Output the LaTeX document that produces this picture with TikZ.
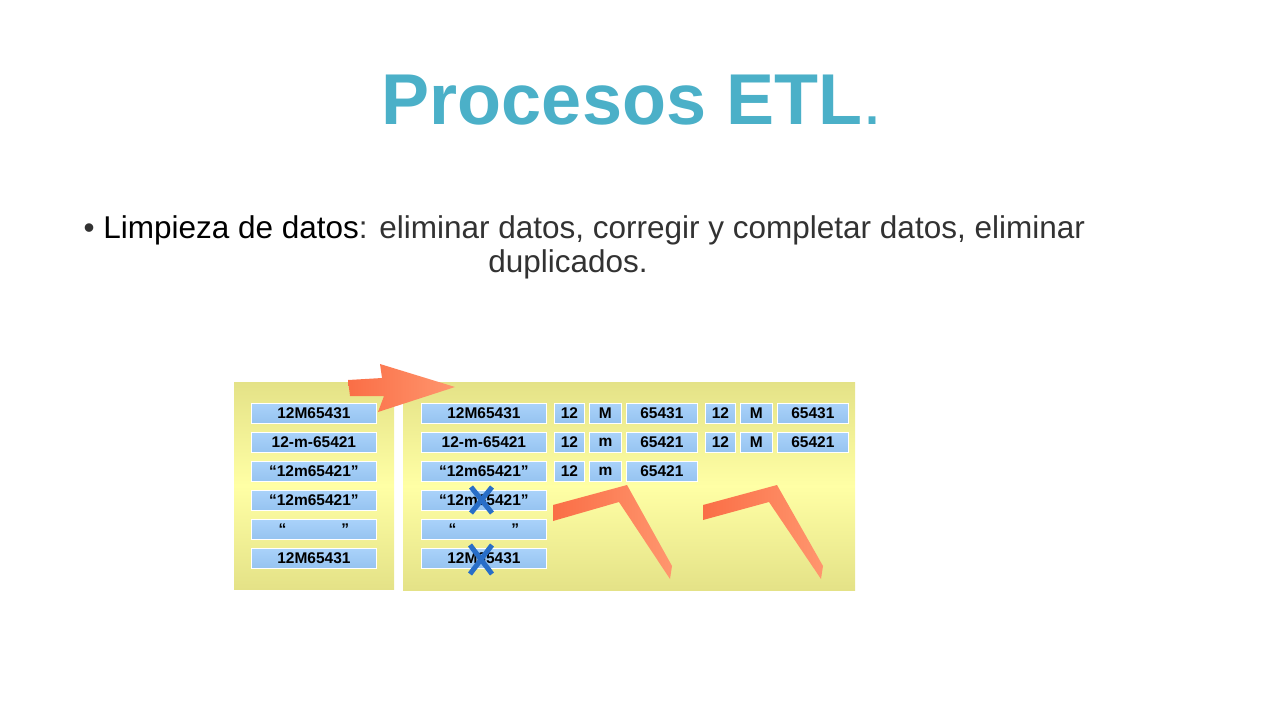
\documentclass[tikz,border=0pt]{standalone}
\usepackage{fontspec}
\setmainfont{Liberation Sans}
\usetikzlibrary{shadings}
\definecolor{ttl}{RGB}{75,176,200}
\definecolor{txt}{RGB}{50,50,50}
\definecolor{boxb}{RGB}{150,195,240}
\definecolor{boxt}{RGB}{170,210,250}
\definecolor{ylo}{RGB}{228,226,135}
\definecolor{yhi}{RGB}{255,255,165}
\definecolor{org}{RGB}{250,110,70}
\definecolor{orgl}{RGB}{255,150,110}
\definecolor{xb}{RGB}{40,110,200}
\tikzset{
 cell/.style={draw=white,line width=0.8pt,top color=boxt,bottom color=boxb,minimum height=20pt,inner sep=0pt,font=\fontsize{15.5}{16}\selectfont\bfseries,text=black,anchor=north west},
 panel/.style={top color=ylo,bottom color=ylo,middle color=yhi,draw=none},
 chev/.style={left color=org,right color=orgl,draw=none},
 xm/.style={draw=xb,line width=5pt}
}
\begin{document}
\begin{tikzpicture}[x=1pt,y=-1pt]
\useasboundingbox (0,0) rectangle (1280,720);
\node[font=\fontsize{72}{78}\selectfont\bfseries,text=ttl] (title) at (632,100) {Procesos ETL{\mdseries.}};
\node[font=\fontsize{31.5}{36}\selectfont,text=txt,anchor=west] (b1) at (80,230) {\textbullet\ \textcolor{black}{Limpieza de datos}: eliminar datos, corregir y completar datos, eliminar};
\node[font=\fontsize{31.5}{36}\selectfont,text=txt] (b2) at (568,264) {duplicados.};
\path[panel] (234,382) rectangle (394,589);
\path[panel] (403,382) rectangle (855,590);
\foreach \t [count=\i from 0] in {12M65431,12-m-65421,``12m65421'',``12m65421'',``\hspace{55pt}'',12M65431}{
 \node[cell,minimum width=125pt] (l\i) at (251,403+29*\i) {\t};
 \node[cell,minimum width=125pt] (m\i) at (421,403+29*\i) {\t};
}
\foreach \a/\b/\c/\r in {12/M/65431/0,12/m/65421/1,12/m/65421/2}{
 \node[cell,minimum width=30pt] (s\r a) at (554,403+29*\r) {\a};
 \node[cell,minimum width=32pt] (s\r b) at (589,403+29*\r) {\b};
 \node[cell,minimum width=71pt] (s\r c) at (626,403+29*\r) {\c};
}
\foreach \a/\b/\c/\r in {12/M/65431/0,12/M/65421/1}{
 \node[cell,minimum width=30pt] (t\r a) at (705,403+29*\r) {\a};
 \node[cell,minimum width=32pt] (t\r b) at (740,403+29*\r) {\b};
 \node[cell,minimum width=71pt] (t\r c) at (777,403+29*\r) {\c};
}
\path[left color=org,right color=orgl] (348,380) -- (382,378) -- (380,364) -- (455,387) -- (378,412) -- (384,396) -- (350,396) -- cycle;
\path[chev] (553,505) -- (627,485) -- (672,566) -- (670,579) -- (619,502) -- (553,521) -- cycle;
\path[chev] (703,505) -- (777,485) -- (823,566) -- (821,579) -- (769,502) -- (703,520) -- cycle;
\draw[xm] (471,487) -- (492,513) (492,487) -- (471,513);
\draw[xm] (470,545) -- (492,574) (492,545) -- (470,574);
\end{tikzpicture}
\end{document}
